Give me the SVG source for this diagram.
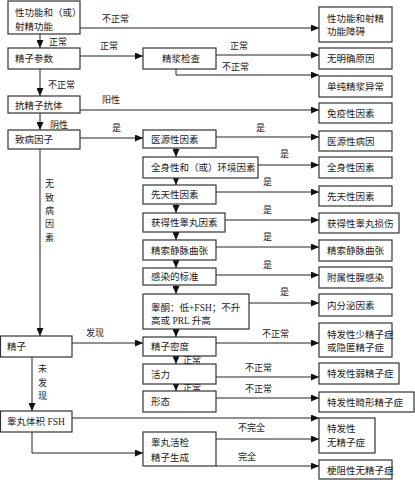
<svg xmlns="http://www.w3.org/2000/svg" width="415" height="480" viewBox="0 0 415 480">
<style>
rect{fill:#fff;stroke:#333;stroke-width:1.2}
text{font-family:"Liberation Serif","Noto Sans CJK SC",serif;font-size:9.5px;fill:#222}
.l{font-size:9px}
#connectors line,#connectors polyline{stroke:#222;stroke-width:1;fill:none}
.a{marker-end:url(#ah)}
</style>
<defs>
<marker id="ah" markerUnits="userSpaceOnUse" markerWidth="8" markerHeight="7" refX="8" refY="3.5" orient="auto"><path d="M0,0 L8,3.5 L0,7 z" fill="#111"/></marker>
</defs>
<rect x="0" y="0" width="415" height="480" style="fill:#fff;stroke:none"/>
<g id="connectors">
<line class="a" x1="80" y1="28" x2="319" y2="28"/>
<line class="a" x1="40" y1="34" x2="40" y2="48"/>
<line class="a" x1="80" y1="56" x2="143" y2="56"/>
<line class="a" x1="216" y1="55" x2="319" y2="55"/>
<polyline class="a" points="176,69 176,75 319,75"/>
<line class="a" x1="40" y1="69" x2="40" y2="96"/>
<line class="a" x1="80" y1="110" x2="319" y2="110"/>
<line class="a" x1="40" y1="113" x2="40" y2="130"/>
<line class="a" x1="80" y1="138" x2="143" y2="138"/>
<line class="a" x1="216" y1="137" x2="319" y2="137"/>
<line class="a" x1="176" y1="148" x2="176" y2="157"/>
<line class="a" x1="176" y1="178" x2="176" y2="185"/>
<line class="a" x1="176" y1="204" x2="176" y2="213"/>
<line class="a" x1="176" y1="232" x2="176" y2="240"/>
<line class="a" x1="176" y1="260" x2="176" y2="268"/>
<line class="a" x1="176" y1="285" x2="176" y2="294"/>
<line class="a" x1="176" y1="329" x2="176" y2="337"/>
<line class="a" x1="176" y1="356" x2="176" y2="364"/>
<line class="a" x1="176" y1="384" x2="176" y2="391"/>
<line class="a" x1="258" y1="165" x2="319" y2="165"/>
<line class="a" x1="216" y1="192" x2="319" y2="192"/>
<line class="a" x1="225" y1="220" x2="319" y2="220"/>
<line class="a" x1="216" y1="247" x2="319" y2="247"/>
<line class="a" x1="216" y1="275" x2="319" y2="275"/>
<line class="a" x1="249" y1="303" x2="319" y2="303"/>
<line class="a" x1="40" y1="149" x2="40" y2="336"/>
<line class="a" x1="72" y1="343" x2="143" y2="343"/>
<line class="a" x1="32" y1="357" x2="32" y2="411"/>
<line class="a" x1="216" y1="343" x2="319" y2="343"/>
<line class="a" x1="216" y1="377" x2="319" y2="377"/>
<line class="a" x1="216" y1="398" x2="319" y2="398"/>
<line class="a" x1="72" y1="418" x2="319" y2="418"/>
<line class="a" x1="216" y1="439" x2="319" y2="439"/>
<line class="a" x1="216" y1="466" x2="319" y2="466"/>
<polyline class="a" points="32,432 32,453 143,453"/>
<text class="l" x="102" y="22">不正常</text>
<text class="l" x="49" y="45">正常</text>
<text class="l" x="100" y="49">正常</text>
<text class="l" x="230" y="49">正常</text>
<text class="l" x="222" y="70">不正常</text>
<text class="l" x="48" y="88">不正常</text>
<text class="l" x="102" y="103">阳性</text>
<text class="l" x="50" y="128">阴性</text>
<text class="l" x="112" y="131">是</text>
<text class="l" x="256" y="131">是</text>
<text class="l" x="280" y="157">是</text>
<text class="l" x="263" y="185">是</text>
<text class="l" x="263" y="213">是</text>
<text class="l" x="263" y="240">是</text>
<text class="l" x="263" y="268">是</text>
<text class="l" x="280" y="295">是</text>
<text class="l" x="45" y="187">无</text>
<text class="l" x="45" y="201">致</text>
<text class="l" x="45" y="214">病</text>
<text class="l" x="45" y="227">因</text>
<text class="l" x="45" y="241">素</text>
<text class="l" x="86" y="336">发现</text>
<text class="l" x="38" y="372">未</text>
<text class="l" x="38" y="386">发</text>
<text class="l" x="38" y="399">现</text>
<text class="l" x="262" y="337">不正常</text>
<text class="l" x="183" y="363">正常</text>
<text class="l" x="245" y="371">不正常</text>
<text class="l" x="183" y="391">正常</text>
<text class="l" x="245" y="392">不正常</text>
<text class="l" x="238" y="431">不完全</text>
<text class="l" x="238" y="460">完全</text>
</g>
<g id="n1"><rect x="8" y="1" width="72" height="33"/><text x="15" y="16">性功能和（或）</text><text x="15" y="30">射精功能</text></g>
<g id="n2"><rect x="8" y="48" width="72" height="21"/><text x="15" y="62">精子参数</text></g>
<g id="n3"><rect x="8" y="96" width="72" height="17"/><text x="15" y="108.5">抗精子抗体</text></g>
<g id="n4"><rect x="8" y="130" width="72" height="19"/><text x="15" y="143">致病因子</text></g>
<g id="n5"><rect x="0.5" y="336" width="71.5" height="21"/><text x="7" y="350">精子</text></g>
<g id="n6"><rect x="0.5" y="411" width="71.5" height="21"/><text x="7" y="425">睾丸体积 FSH</text></g>
<g id="m0"><rect x="143" y="48" width="73" height="21"/><text x="162" y="62">精浆检查</text></g>
<g id="m1"><rect x="143" y="130" width="73" height="18"/><text x="151" y="143">医源性因素</text></g>
<g id="m2"><rect x="143" y="157" width="115" height="21"/><text x="151" y="171">全身性和（或）环境因素</text></g>
<g id="m3"><rect x="143" y="185" width="73" height="19"/><text x="151" y="198">先天性因素</text></g>
<g id="m4"><rect x="143" y="213" width="82" height="19"/><text x="151" y="226">获得性睾丸因素</text></g>
<g id="m5"><rect x="143" y="240" width="73" height="20"/><text x="151" y="254">精索静脉曲张</text></g>
<g id="m6"><rect x="143" y="268" width="73" height="17"/><text x="151" y="280">感染的标准</text></g>
<g id="m7"><rect x="143" y="294" width="106" height="35"/><text x="151" y="311">睾酮：低+FSH；不升</text><text x="151" y="324">高或 PRL 升高</text></g>
<g id="m8"><rect x="143" y="337" width="73" height="19"/><text x="151" y="350">精子密度</text></g>
<g id="m9"><rect x="143" y="364" width="73" height="20"/><text x="151" y="378">活力</text></g>
<g id="m10"><rect x="143" y="391" width="73" height="21"/><text x="151" y="405">形态</text></g>
<g id="m11"><rect x="143" y="432" width="73" height="34"/><text x="151" y="446">睾丸活检</text><text x="151" y="461">精子生成</text></g>
<g id="r1"><rect x="319" y="7" width="73" height="35"/><text x="327" y="22">性功能和射精</text><text x="327" y="35">功能障碍</text></g>
<g id="r2"><rect x="319" y="48" width="73" height="21"/><text x="327" y="62">无明确原因</text></g>
<g id="r3"><rect x="319" y="76" width="73" height="21"/><text x="327" y="90">单纯精浆异常</text></g>
<g id="r4"><rect x="319" y="103" width="73" height="20"/><text x="327" y="117">免疫性因素</text></g>
<g id="r5"><rect x="319" y="131" width="73" height="20"/><text x="327" y="145">医源性病因</text></g>
<g id="r6"><rect x="319" y="157" width="73" height="21"/><text x="327" y="171">全身性因素</text></g>
<g id="r7"><rect x="319" y="186" width="73" height="20"/><text x="327" y="200">先天性因素</text></g>
<g id="r8"><rect x="319" y="213" width="80" height="20"/><text x="327" y="227">获得性睾丸损伤</text></g>
<g id="r9"><rect x="319" y="240" width="73" height="21"/><text x="327" y="254">精索静脉曲张</text></g>
<g id="r10"><rect x="319" y="267" width="73" height="21"/><text x="327" y="281">附属性腺感染</text></g>
<g id="r11"><rect x="319" y="294" width="73" height="22"/><text x="327" y="309">内分泌因素</text></g>
<g id="r12"><rect x="319" y="323" width="73" height="34"/><text x="327" y="338">特发性少精子症</text><text x="327" y="351">或隐匿精子症</text></g>
<g id="r13"><rect x="319" y="363" width="80" height="21"/><text x="327" y="377">特发性弱精子症</text></g>
<g id="r14"><rect x="319" y="392" width="95" height="20"/><text x="327" y="406">特发性畸形精子症</text></g>
<g id="r15"><rect x="319" y="418" width="56" height="35"/><text x="327" y="432">特发性</text><text x="327" y="446">无精子症</text></g>
<g id="r16"><rect x="319" y="460" width="73" height="19"/><text x="327" y="474">梗阻性无精子症</text></g>
</svg>
